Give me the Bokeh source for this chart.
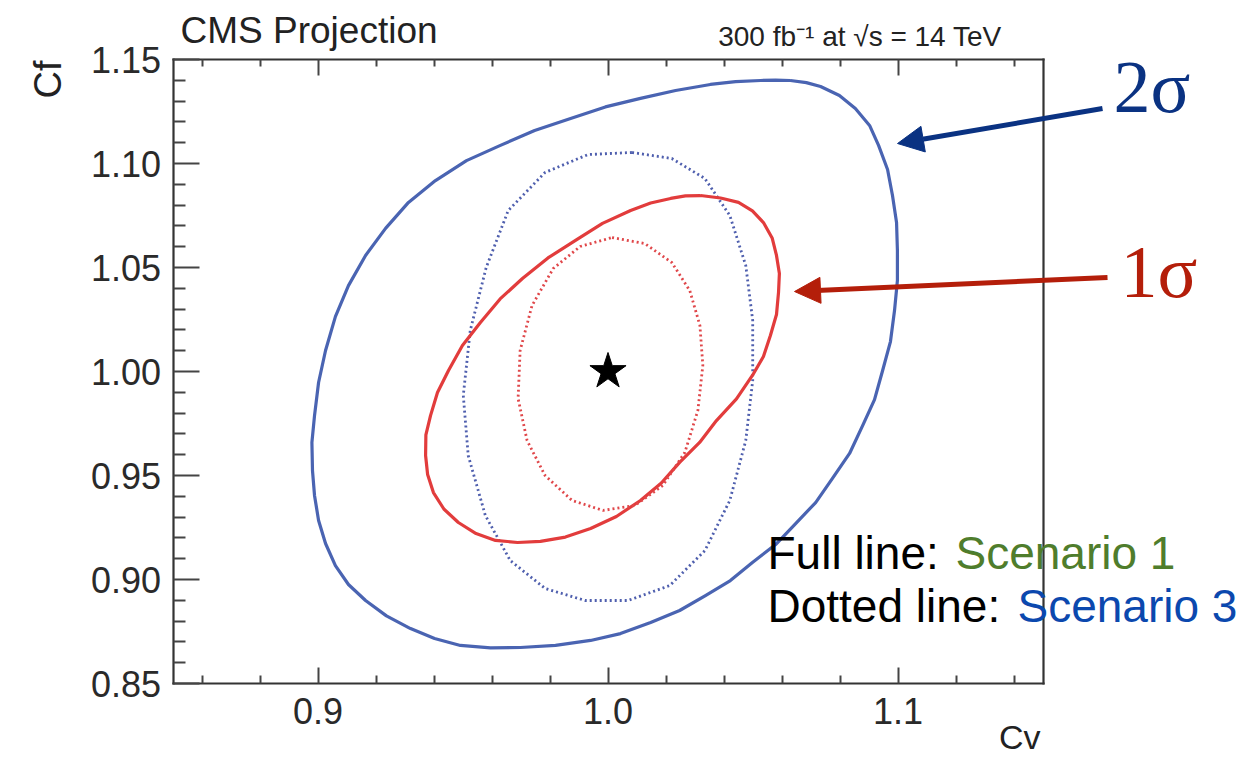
import numpy as np
from bokeh.plotting import figure
from bokeh.models import (Range1d, FixedTicker, LinearAxis, Label, Arrow, NormalHead,
                          CustomJSTickFormatter, NumeralTickFormatter)
from bokeh.embed import file_html
from bokeh.resources import INLINE

# ---------------- data ----------------
# 2 sigma, Scenario 1 (solid blue)
s1_2sig_cv = [1.0629, 1.0684, 1.0733, 1.0798, 1.0853, 1.0902, 1.0933, 1.0964, 1.0981, 1.0995,
              1.0998, 1.0998, 1.0988, 1.0974, 1.0947, 1.0919, 1.0878, 1.0833, 1.0774, 1.0716,
              1.0647, 1.0578, 1.0498, 1.0422, 1.0336, 1.0247, 1.0147, 1.0043, 0.9940, 0.9819,
              0.9698, 0.9595, 0.9491, 0.9402, 0.9319, 0.9236, 0.9164, 0.9105, 0.9060, 0.9026,
              0.9002, 0.8988, 0.8981, 0.8979, 0.8988, 0.9002, 0.9026, 0.9060, 0.9105, 0.9164,
              0.9233, 0.9312, 0.9405, 0.9512, 0.9629, 0.9747, 0.9871, 0.9991, 1.0112, 1.0233,
              1.0353, 1.0440, 1.0526, 1.0578]
s1_2sig_cf = [1.1399, 1.1389, 1.1370, 1.1327, 1.1264, 1.1183, 1.1087, 1.0971, 1.0846, 1.0716,
              1.0582, 1.0438, 1.0293, 1.0144, 1.0005, 0.9865, 0.9740, 0.9606, 0.9486, 0.9370,
              0.9269, 0.9168, 0.9082, 0.8995, 0.8923, 0.8851, 0.8793, 0.8740, 0.8707, 0.8683,
              0.8673, 0.8671, 0.8683, 0.8716, 0.8764, 0.8825, 0.8899, 0.8976, 0.9067, 0.9173,
              0.9284, 0.9404, 0.9524, 0.9659, 0.9788, 0.9947, 1.0101, 1.0264, 1.0413, 1.0558,
              1.0688, 1.0813, 1.0918, 1.1014, 1.1087, 1.1159, 1.1216, 1.1272, 1.1313, 1.1351,
              1.1380, 1.1394, 1.1399, 1.1401]
# 1 sigma, Scenario 1 (solid red)
s1_1sig_cv = [1.0319, 1.0388, 1.0450, 1.0498, 1.0536, 1.0566, 1.0581, 1.0591, 1.0588, 1.0581,
              1.0560, 1.0536, 1.0498, 1.0443, 1.0374, 1.0316, 1.0247, 1.0184, 1.0112, 1.0029,
              0.9940, 0.9853, 0.9767, 0.9688, 0.9612, 0.9545, 0.9484, 0.9434, 0.9398, 0.9378,
              0.9371, 0.9372, 0.9388, 0.9412, 0.9450, 0.9498, 0.9560, 0.9628, 0.9705, 0.9793,
              0.9888, 0.9981, 1.0078, 1.0147, 1.0216, 1.0267]
s1_1sig_cf = [1.0846, 1.0834, 1.0813, 1.0772, 1.0716, 1.0642, 1.0558, 1.0471, 1.0380, 1.0274,
              1.0173, 1.0072, 0.9981, 0.9868, 0.9764, 0.9659, 0.9563, 0.9464, 0.9380, 0.9303,
              0.9245, 0.9204, 0.9183, 0.9178, 0.9188, 0.9221, 0.9274, 0.9339, 0.9418, 0.9505,
              0.9596, 0.9695, 0.9788, 0.9899, 1.0005, 1.0125, 1.0236, 1.0349, 1.0447, 1.0546,
              1.0630, 1.0712, 1.0774, 1.0810, 1.0832, 1.0844]
# 2 sigma, Scenario 3 (dotted blue)
s3_2sig_cv = [1.0083, 1.0220, 1.0334, 1.0420, 1.0475, 1.0499, 1.0499, 1.0475, 1.0420, 1.0334,
              1.0213, 1.0069, 0.9921, 0.9783, 0.9663, 0.9577, 0.9518, 0.9501, 0.9525, 0.9580,
              0.9656, 0.9783, 0.9931]
s3_2sig_cf = [1.1053, 1.1024, 1.0928, 1.0750, 1.0510, 1.0245, 0.9957, 0.9668, 0.9380, 0.9139,
              0.8971, 0.8899, 0.8899, 0.8957, 0.9091, 0.9308, 0.9596, 0.9885, 1.0197, 1.0500,
              1.0774, 1.0957, 1.1043]
# 1 sigma, Scenario 3 (dotted red)
s3_1sig_cv = [1.0014, 1.0127, 1.0220, 1.0282, 1.0317, 1.0327, 1.0310, 1.0265, 1.0189, 1.0093,
              0.9983, 0.9876, 0.9783, 0.9721, 0.9690, 0.9697, 0.9738, 0.9811, 0.9904]
s3_1sig_cf = [1.0644, 1.0615, 1.0524, 1.0389, 1.0221, 1.0029, 0.9813, 0.9611, 0.9452, 0.9356,
              0.9332, 0.9380, 0.9500, 0.9668, 0.9870, 1.0101, 1.0317, 1.0495, 1.0601]
# SM point
sm_cv = [1.0]
sm_cf = [1.0]

x_major_ticks = [0.9, 1.0, 1.1]
x_minor_ticks = [0.86, 0.88, 0.92, 0.94, 0.96, 0.98, 1.02, 1.04, 1.06, 1.08, 1.12, 1.14]
y_major_ticks = [0.85, 0.90, 0.95, 1.00, 1.05, 1.10, 1.15]
y_minor_ticks = [round(0.85 + 0.01 * i, 2) for i in range(31) if i % 5 != 0]

X_LO, X_HI = 0.85, 1.15
Y_LO, Y_HI = 0.85, 1.15

# ---------------- layout (pixels) ----------------
W, H = 1256, 764
FL, FR, FT, FB = 172.5, 1042.5, 59.0, 683.0   # axes box inside the canvas
sx = (FR - FL) / (X_HI - X_LO)
sy = (FB - FT) / (Y_HI - Y_LO)
BASE_K = 0.38   # empirical shift of the rendered baseline (fraction of font size)


def dx(px):
    return X_LO + (px - FL) / sx


def dy(py):
    return Y_LO + (FB - py) / sy


def closed(a):
    return list(a) + [a[0]]


SANS = "Liberation Sans"
SERIF = "Liberation Serif"
AX = "#333333"

p = figure(width=W, height=H, output_backend="svg", toolbar_location=None,
           x_range=Range1d(dx(0), dx(W)), y_range=Range1d(dy(H), dy(0)),
           min_border=0, x_axis_location=None, y_axis_location=None)
p.grid.visible = False
p.outline_line_color = None
p.background_fill_color = "white"
p.border_fill_color = "white"


def make_axis(ticks, minor, fmt, loc, bounds, tick_in, minor_in, standoff=0):
    ax = LinearAxis(ticker=FixedTicker(ticks=ticks, minor_ticks=minor), formatter=fmt,
                    fixed_location=loc, bounds=bounds)
    ax.axis_line_color = AX
    ax.axis_line_width = 2.2
    ax.axis_line_cap = "square"
    ax.major_tick_line_color = "#444444"
    ax.minor_tick_line_color = "#444444"
    ax.major_tick_line_width = 2
    ax.minor_tick_line_width = 2
    ax.major_tick_out = 0
    ax.minor_tick_out = 0
    ax.major_tick_in = tick_in
    ax.minor_tick_in = minor_in
    ax.major_label_text_font = SANS
    ax.major_label_text_font_size = "36px"
    ax.major_label_text_color = "#2a2a2a"
    ax.major_label_standoff = standoff
    return ax


empty = CustomJSTickFormatter(code="return ''")
xb = make_axis(x_major_ticks, x_minor_ticks, NumeralTickFormatter(format="0.0"),
               Y_LO, (X_LO, X_HI), 16, 8, 14)
yl = make_axis(y_major_ticks, y_minor_ticks, NumeralTickFormatter(format="0.00"),
               X_LO, (Y_LO, Y_HI), 26, 12, 12)
xt = make_axis(x_major_ticks, x_minor_ticks, empty, Y_HI, (X_LO, X_HI), 16, 7)
yr = make_axis([], [], empty, X_HI, (Y_LO, Y_HI), 0, 0)
p.add_layout(xb, "below")
p.add_layout(yl, "left")
p.add_layout(xt, "above")
p.add_layout(yr, "right")

# contours
p.line(closed(s1_2sig_cv), closed(s1_2sig_cf), line_color="#4a64b2", line_width=3.2,
       line_join="round")
p.line(closed(s3_2sig_cv), closed(s3_2sig_cf), line_color="#4f5fae", line_width=2.8,
       line_dash="2 3")
p.line(closed(s1_1sig_cv), closed(s1_1sig_cf), line_color="#e23c3c", line_width=3.2,
       line_join="round")
p.line(closed(s3_1sig_cv), closed(s3_1sig_cf), line_color="#e0474a", line_width=2.8,
       line_dash="2 3")
p.scatter(sm_cv, sm_cf, marker="star", size=38, fill_color="black", line_color="black")


# texts (positions: canvas pixels of the wanted baseline)
def lab(px, py, text, size, color="#222222", font=SANS, align="left", angle=0.0):
    shift = BASE_K * size
    if angle == 0.0:
        x, y = px, py - shift
    else:
        x, y = px - shift, py
    p.add_layout(Label(x=dx(x), y=dy(y), text=text, text_font=font,
                       text_font_size=f"{size}px", text_color=color, text_align=align,
                       text_baseline="alphabetic", angle=angle))


lab(180, 44, "CMS Projection", 37)
lab(1009, 47, "300 fb\u207b\u00b9 at  \u221as = 14 TeV", 28, align="right")
lab(1040, 749, "Cv", 34, align="right")
lab(62, 60, "Cf", 38, align="right", angle=np.pi / 2)

lab(1113, 115, "2\u03c3", 74, color="#0a3282", font=SERIF)
lab(1120, 300, "1\u03c3", 74, color="#b41e0a", font=SERIF)

lab(767, 570, "Full line: ", 46, color="black")
lab(955, 570, "Scenario 1", 46, color="#4f7d2c")
lab(767, 623, "Dotted line: ", 46, color="black")
lab(1017, 623, "Scenario 3", 46, color="#0b48ae")

# arrows
p.add_layout(Arrow(x_start=dx(1102), y_start=dy(108), x_end=dx(897), y_end=dy(143),
                   line_color="#0a3282", line_width=5,
                   end=NormalHead(size=26, fill_color="#0a3282", line_color="#0a3282")))
p.add_layout(Arrow(x_start=dx(1107), y_start=dy(277), x_end=dx(794), y_end=dy(291),
                   line_color="#b41e0a", line_width=5,
                   end=NormalHead(size=26, fill_color="#b41e0a", line_color="#b41e0a")))

open("out.html", "w").write(file_html(p, INLINE))
